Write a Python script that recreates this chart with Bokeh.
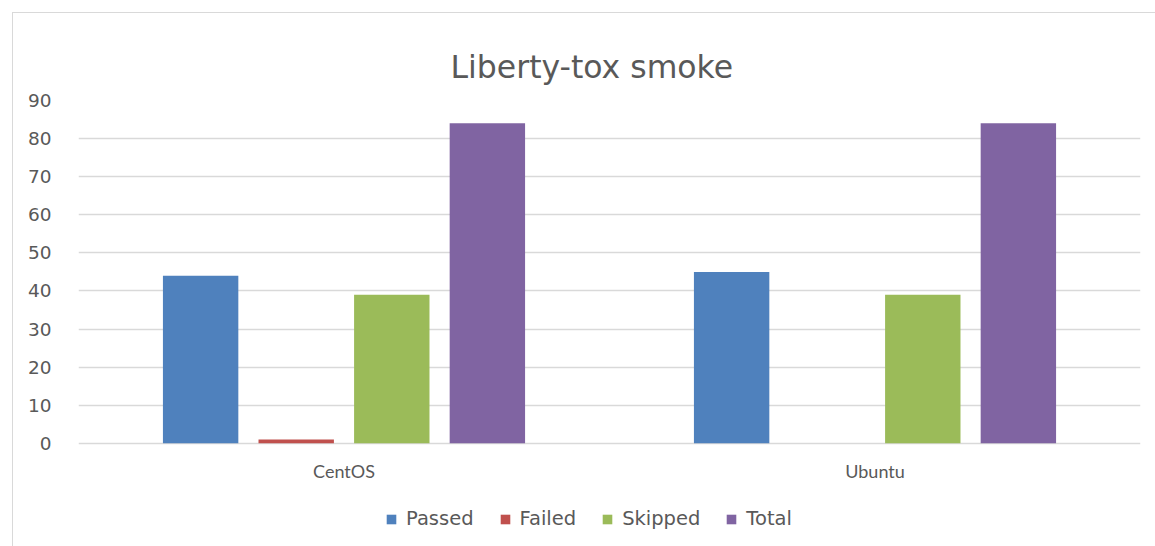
from bokeh.plotting import figure
from bokeh.models import (FactorRange, Range1d, FixedTicker, Legend, LegendItem,
                          ColumnDataSource, LabelSet)
from bokeh.core.properties import value
from bokeh.transform import dodge
from bokeh.embed import file_html
from bokeh.resources import INLINE

# ---- data ----
platforms = ["CentOS", "Ubuntu"]
series = ["Passed", "Failed", "Skipped", "Total"]
passed = [44, 45]
failed = [1, 0]
skipped = [39, 39]
total = [84, 84]
y_ticks = [0, 10, 20, 30, 40, 50, 60, 70, 80, 90]
title_text = "Liberty-tox smoke"

colors = ["#4F81BD", "#C0504D", "#9BBB59", "#8064A2"]
offsets = [-0.27, -0.09, 0.09, 0.27]
TXT = "#595959"
GRID = "#D9D9D9"

# layout (pixels): value axis spans 342 px for 0..90; frame runs 104 px below zero
PX_PER_UNIT = 342 / 90.0
Y_MIN = -104 / PX_PER_UNIT
LABEL_Y = -28 / PX_PER_UNIT

src = ColumnDataSource(dict(platform=platforms, Passed=passed, Failed=failed,
                            Skipped=skipped, Total=total,
                            label_y=[LABEL_Y] * len(platforms)))

p = figure(width=1143, height=534, x_range=FactorRange(*platforms),
           y_range=Range1d(Y_MIN, 90), output_backend="svg", toolbar_location=None,
           x_axis_location=None,
           min_border_left=65, min_border_right=16, min_border_top=87,
           min_border_bottom=0)
p.styles = {"margin-left": "12px", "margin-top": "12px",
            "border-left": "1px solid #D9D9D9", "border-top": "1px solid #D9D9D9"}

p.title.text = title_text
p.title.align = "left"
p.title.offset = 372
p.title.text_font = "DejaVu Sans"
p.title.text_font_size = "31.5px"
p.title.text_font_style = "normal"
p.title.text_color = TXT
p.title.vertical_align = "middle"
p.title.standoff = 30

items = []
for name, col, off in zip(series, colors, offsets):
    r = p.vbar(x=dodge("platform", off, range=p.x_range), top=name, bottom=0,
               width=0.142, source=src, fill_color=col, line_color=None)
    items.append(LegendItem(label=name, renderers=[r]))

p.outline_line_color = None
p.xgrid.grid_line_color = None
p.ygrid.grid_line_color = GRID
p.ygrid.grid_line_width = 1.5
p.ygrid.ticker = FixedTicker(ticks=y_ticks)

p.yaxis.ticker = FixedTicker(ticks=y_ticks)
p.yaxis.axis_line_color = None
p.yaxis.major_tick_line_color = None
p.yaxis.minor_tick_line_color = None
p.yaxis.major_label_text_font = "DejaVu Sans"
p.yaxis.major_label_text_font_size = "18.5px"
p.yaxis.major_label_text_color = TXT
p.yaxis.major_label_standoff = 21

cat_labels = LabelSet(x="platform", y="label_y", text="platform", source=src,
                      text_align="center", text_baseline="middle",
                      text_font=value("Lato"), text_font_size=value("18px"),
                      text_color=value(TXT))
p.add_layout(cat_labels)

legend = Legend(items=items, orientation="horizontal", location=(307, 17))
legend.label_text_font = "DejaVu Sans"
legend.label_text_font_size = "19.5px"
legend.label_text_color = TXT
legend.label_height = 20
legend.glyph_width = 12
legend.glyph_height = 12
legend.spacing = 25
legend.label_standoff = 9
legend.border_line_color = None
legend.background_fill_alpha = 0
legend.margin = 0
legend.padding = 0
p.add_layout(legend, "center")

open("out.html", "w").write(file_html(p, INLINE))
